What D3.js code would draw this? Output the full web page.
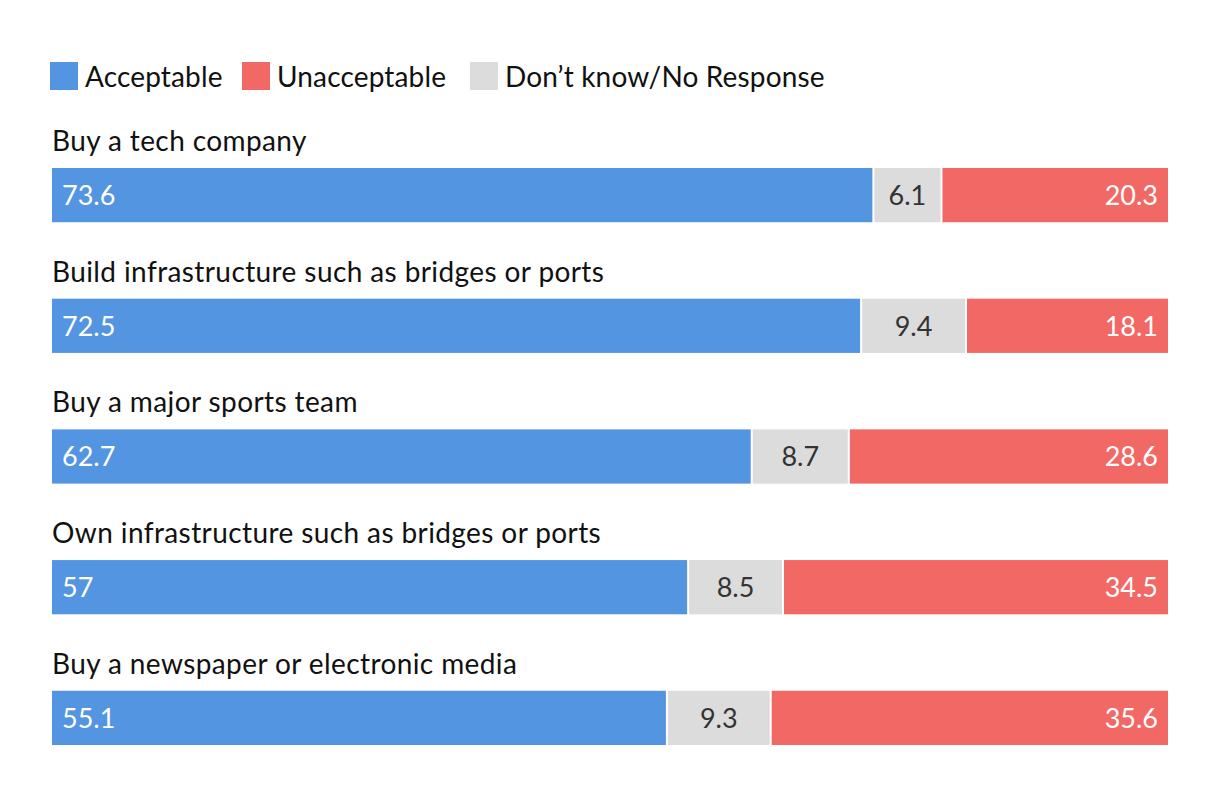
<!DOCTYPE html>
<html>
<head>
<meta charset="utf-8">
<script src="https://cdn.jsdelivr.net/npm/d3@7"></script>
<style>
  html, body { margin: 0; padding: 0; background: #fff; }
  svg { display: block; font-family: Lato, "Open Sans", sans-serif; }
</style>
</head>
<body>
<svg id="chart" width="1220" height="796"></svg>
<script>
const categories = [
  "Buy a tech company",
  "Build infrastructure such as bridges or ports",
  "Buy a major sports team",
  "Own infrastructure such as bridges or ports",
  "Buy a newspaper or electronic media"
];
const acceptable   = [73.6, 72.5, 62.7, 57, 55.1];
const dontKnow     = [6.1, 9.4, 8.7, 8.5, 9.3];
const unacceptable = [20.3, 18.1, 28.6, 34.5, 35.6];
const seriesNames  = ["Acceptable", "Don\u2019t know/No Response", "Unacceptable"];
const legendOrder  = ["Acceptable", "Unacceptable", "Don\u2019t know/No Response"];

const colors = {
  "Acceptable": "#5495e1",
  "Unacceptable": "#f26865",
  "Don\u2019t know/No Response": "#dcdcdc"
};
const textColors = {
  "Acceptable": "#ffffff",
  "Unacceptable": "#ffffff",
  "Don\u2019t know/No Response": "#333333"
};

const rows = categories.map((c, i) => ({
  category: c,
  "Acceptable": acceptable[i],
  "Don\u2019t know/No Response": dontKnow[i],
  "Unacceptable": unacceptable[i]
}));

const svg = d3.select("#chart");
const x = d3.scaleLinear().domain([0, 100]).range([52, 1168]);
const y = d3.scaleBand().domain(categories).range([168, 745]).paddingInner(0.585).paddingOuter(0);

const stack = d3.stack().keys(seriesNames);
const stacked = stack(rows);

const labelSize = 28;
const valueSize = 27;
const gap = 1;

// category labels
svg.append("g").selectAll("text").data(categories).join("text")
  .attr("x", 52)
  .attr("y", d => y(d) - 17)
  .attr("font-size", labelSize)
  .attr("letter-spacing", 0.4)
  .attr("fill", "#111")
  .text(d => d);

// segments
const layers = svg.append("g").selectAll("g").data(stacked).join("g")
  .attr("fill", d => colors[d.key]);

layers.each(function(layer, li) {
  const g = d3.select(this);
  const n = stacked.length;
  g.selectAll("rect").data(layer).join("rect")
    .attr("x", d => x(d[0]) + (li > 0 ? gap : 0))
    .attr("y", d => y(d.data.category))
    .attr("width", d => x(d[1]) - x(d[0]) - (li > 0 ? gap : 0) - (li < n - 1 ? gap : 0))
    .attr("height", y.bandwidth());

  g.selectAll("text").data(layer).join("text")
    .attr("x", d => li === 0 ? x(d[0]) + 10 : (li === n - 1 ? x(d[1]) - 10 : (x(d[0]) + x(d[1])) / 2))
    .attr("y", d => y(d.data.category) + 37)
    .attr("text-anchor", li === 0 ? "start" : (li === n - 1 ? "end" : "middle"))
    .attr("font-size", valueSize)
    .attr("fill", textColors[layer.key])
    .text(d => d.data[layer.key]);
});

// legend
const legendX = [50, 242, 470];
const legend = svg.append("g").selectAll("g").data(legendOrder).join("g")
  .attr("transform", (d, i) => `translate(${legendX[i]},62)`);
legend.append("rect").attr("width", 28).attr("height", 28).attr("fill", d => colors[d]);
legend.append("text").attr("x", 35).attr("y", 25)
  .attr("font-size", labelSize).attr("letter-spacing", 0.15).attr("fill", "#111").text(d => d);
</script>
</body>
</html>
